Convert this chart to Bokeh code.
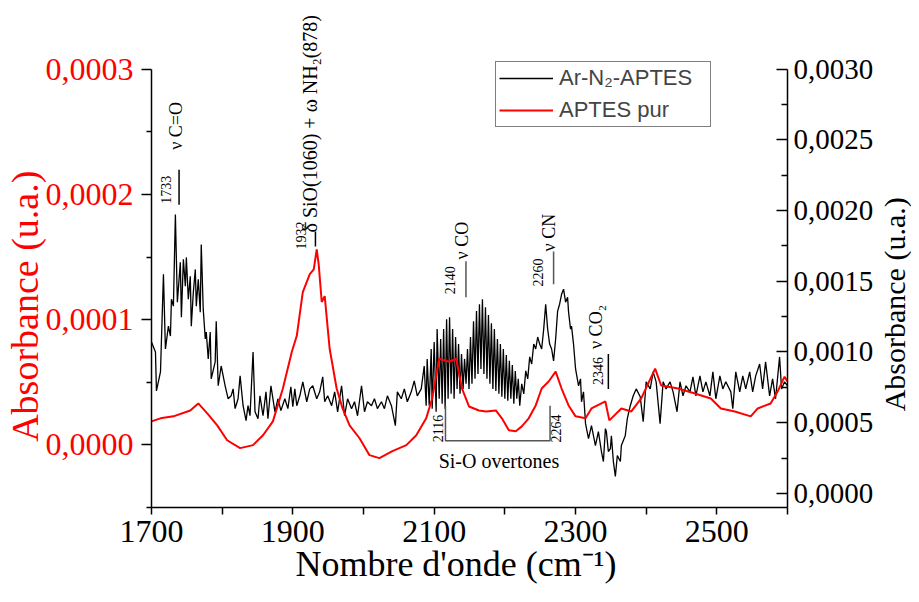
import math
from bokeh.plotting import figure
from bokeh.layouts import row
from bokeh.models import (Range1d, LinearAxis, FixedTicker, CustomJSTickFormatter,
                          Label, ColumnDataSource)
from bokeh.embed import file_html
from bokeh.resources import INLINE

# ---------------- data ----------------
# Ar-N2-APTES (right axis)
black_wn = [
    1700.0, 1705.6, 1707.0, 1712.7, 1716.9, 1719.7, 1723.9, 1726.8, 1728.2, 1731.0,
    1733.8, 1736.6, 1740.8, 1742.3, 1745.1, 1747.9, 1749.3, 1752.1, 1754.9, 1756.3,
    1759.2, 1762.0, 1763.4, 1766.2, 1769.0, 1770.4, 1773.2, 1776.1, 1777.5, 1780.3,
    1783.1, 1784.5, 1790.1, 1791.6, 1794.4, 1798.6, 1804.2, 1808.5, 1812.7, 1815.5,
    1818.3, 1822.5, 1825.4, 1829.6, 1833.8, 1836.6, 1839.4, 1843.7, 1846.5, 1850.7,
    1853.5, 1857.8, 1862.0, 1864.8, 1869.0, 1874.7, 1878.9, 1883.1, 1888.7, 1893.0,
    1897.2, 1900.0, 1902.8, 1905.6, 1909.9, 1914.1, 1919.7, 1924.0, 1928.2, 1933.8,
    1938.0, 1942.3, 1945.1, 1949.3, 1954.9, 1959.2, 1963.4, 1969.0, 1973.2, 1977.5,
    1983.1, 1987.3, 1991.6, 1997.2, 2001.4, 2005.6, 2011.3, 2015.5, 2019.7, 2025.4,
    2029.6, 2033.8, 2039.5, 2045.1, 2047.9, 2053.5, 2057.8, 2062.0, 2067.6, 2071.8,
    2076.1, 2081.7, 2085.9, 2088.7, 2090.1, 2093.0, 2095.8, 2097.2, 2100.0, 2102.8,
    2104.2, 2107.1, 2109.2, 2111.3, 2113.4, 2115.5, 2117.6, 2119.7, 2121.8, 2124.0,
    2126.1, 2128.2, 2130.3, 2132.4, 2134.5, 2136.6, 2138.7, 2140.9, 2143.0, 2145.1,
    2147.2, 2149.3, 2151.4, 2153.5, 2155.7, 2157.8, 2159.9, 2162.0, 2164.1, 2166.2,
    2168.3, 2170.4, 2172.6, 2174.7, 2176.8, 2178.9, 2181.0, 2183.1, 2185.2, 2187.3,
    2189.5, 2191.6, 2193.7, 2195.8, 2197.9, 2200.0, 2202.1, 2204.2, 2206.4, 2208.5,
    2210.6, 2212.7, 2214.8, 2216.9, 2219.0, 2221.1, 2223.9, 2226.8, 2229.6, 2232.4,
    2235.2, 2238.0, 2240.9, 2243.7, 2246.5, 2249.3, 2252.1, 2255.0, 2257.8, 2260.6,
    2263.4, 2266.2, 2269.0, 2271.9, 2274.7, 2277.5, 2280.3, 2283.1, 2286.0, 2288.8,
    2290.2, 2293.0, 2294.4, 2297.2, 2300.1, 2304.3, 2307.1, 2308.5, 2311.3, 2314.2,
    2318.4, 2322.6, 2328.2, 2332.4, 2336.7, 2339.5, 2342.3, 2343.7, 2346.5, 2349.4,
    2350.8, 2353.6, 2356.4, 2359.2, 2363.5, 2364.9, 2370.4, 2373.3, 2377.5, 2381.7,
    2385.9, 2391.6, 2395.8, 2400.0, 2405.7, 2409.9, 2414.1, 2419.7, 2424.0, 2428.2,
    2433.8, 2438.1, 2443.7, 2447.9, 2452.1, 2456.4, 2462.0, 2466.2, 2470.4, 2476.1,
    2480.3, 2484.5, 2490.2, 2494.4, 2498.6, 2504.3, 2508.5, 2512.7, 2519.8, 2522.6,
    2526.8, 2532.4, 2536.7, 2540.9, 2546.5, 2550.7, 2555.0, 2560.6, 2564.8, 2569.0,
    2574.7, 2578.9, 2583.1, 2588.8, 2591.6, 2595.8, 2600.0,
]
black_abs = [
    1.070e-3, 1.000e-3, 0.725e-3, 0.859e-3, 1.549e-3, 1.021e-3, 1.183e-3, 1.113e-3, 1.373e-3, 1.324e-3,
    1.972e-3, 1.352e-3, 1.634e-3, 1.246e-3, 1.655e-3, 1.465e-3, 1.669e-3, 1.373e-3, 1.535e-3, 1.183e-3,
    1.422e-3, 1.584e-3, 1.324e-3, 1.514e-3, 1.282e-3, 1.761e-3, 1.303e-3, 1.092e-3, 1.141e-3, 0.951e-3,
    1.141e-3, 0.810e-3, 0.930e-3, 1.218e-3, 0.761e-3, 0.901e-3, 0.761e-3, 0.669e-3, 0.690e-3, 0.739e-3,
    0.599e-3, 0.669e-3, 0.831e-3, 0.620e-3, 0.514e-3, 0.620e-3, 0.549e-3, 1.000e-3, 0.577e-3, 0.528e-3,
    0.690e-3, 0.549e-3, 0.718e-3, 0.528e-3, 0.761e-3, 0.577e-3, 0.669e-3, 0.585e-3, 0.669e-3, 0.599e-3,
    0.754e-3, 0.613e-3, 0.739e-3, 0.620e-3, 0.690e-3, 0.789e-3, 0.648e-3, 0.739e-3, 0.761e-3, 0.669e-3,
    0.718e-3, 0.824e-3, 0.648e-3, 0.690e-3, 0.620e-3, 0.718e-3, 0.577e-3, 0.761e-3, 0.549e-3, 0.669e-3,
    0.599e-3, 0.648e-3, 0.549e-3, 0.761e-3, 0.577e-3, 0.648e-3, 0.620e-3, 0.669e-3, 0.599e-3, 0.648e-3,
    0.599e-3, 0.690e-3, 0.620e-3, 0.479e-3, 0.718e-3, 0.669e-3, 0.739e-3, 0.648e-3, 0.718e-3, 0.796e-3,
    0.690e-3, 0.739e-3, 0.901e-3, 0.620e-3, 0.951e-3, 0.620e-3, 1.021e-3, 0.599e-3, 1.070e-3, 0.577e-3,
    1.162e-3, 0.669e-3, 1.092e-3, 0.634e-3, 1.162e-3, 0.599e-3, 1.232e-3, 0.669e-3, 1.246e-3, 0.704e-3,
    1.162e-3, 0.669e-3, 1.106e-3, 0.739e-3, 1.056e-3, 0.704e-3, 0.986e-3, 0.739e-3, 0.951e-3, 0.775e-3,
    1.021e-3, 0.739e-3, 1.106e-3, 0.775e-3, 1.218e-3, 0.810e-3, 1.289e-3, 0.845e-3, 1.338e-3, 0.880e-3,
    1.373e-3, 0.845e-3, 1.317e-3, 0.810e-3, 1.261e-3, 0.775e-3, 1.204e-3, 0.739e-3, 1.162e-3, 0.725e-3,
    1.092e-3, 0.704e-3, 1.056e-3, 0.683e-3, 1.021e-3, 0.669e-3, 0.979e-3, 0.655e-3, 0.937e-3, 0.669e-3,
    0.908e-3, 0.634e-3, 0.866e-3, 0.669e-3, 0.810e-3, 0.620e-3, 0.775e-3, 0.704e-3, 0.866e-3, 0.810e-3,
    0.965e-3, 0.915e-3, 1.056e-3, 1.021e-3, 1.106e-3, 1.056e-3, 1.021e-3, 1.162e-3, 1.338e-3, 1.162e-3,
    1.056e-3, 1.021e-3, 0.937e-3, 1.092e-3, 1.289e-3, 1.338e-3, 1.408e-3, 1.444e-3, 1.352e-3, 1.387e-3,
    1.282e-3, 1.162e-3, 1.183e-3, 1.056e-3, 0.880e-3, 0.761e-3, 0.810e-3, 0.648e-3, 0.718e-3, 0.493e-3,
    0.387e-3, 0.479e-3, 0.338e-3, 0.437e-3, 0.296e-3, 0.225e-3, 0.458e-3, 0.437e-3, 0.296e-3, 0.317e-3,
    0.408e-3, 0.225e-3, 0.120e-3, 0.268e-3, 0.225e-3, 0.338e-3, 0.408e-3, 0.528e-3, 0.620e-3, 0.690e-3,
    0.739e-3, 0.683e-3, 0.507e-3, 0.789e-3, 0.739e-3, 0.859e-3, 0.789e-3, 0.493e-3, 0.789e-3, 0.739e-3,
    0.789e-3, 0.718e-3, 0.577e-3, 0.789e-3, 0.690e-3, 0.761e-3, 0.718e-3, 0.824e-3, 0.690e-3, 0.831e-3,
    0.718e-3, 0.789e-3, 0.690e-3, 0.859e-3, 0.669e-3, 0.831e-3, 0.739e-3, 0.789e-3, 0.718e-3, 0.599e-3,
    0.859e-3, 0.718e-3, 0.831e-3, 0.739e-3, 0.859e-3, 0.718e-3, 0.831e-3, 0.915e-3, 0.739e-3, 0.930e-3,
    0.690e-3, 0.810e-3, 0.669e-3, 0.965e-3, 0.739e-3, 0.789e-3, 0.761e-3,
]

# APTES pur (left axis)
red_wn = [
    1700.0, 1712.7, 1731.0, 1754.9, 1766.2, 1778.9, 1793.0, 1807.0, 1825.4, 1843.7,
    1857.8, 1871.8, 1885.9, 1898.6, 1905.6, 1914.1, 1924.0, 1929.6, 1933.8, 1936.6,
    1940.9, 1945.1, 1952.1, 1962.0, 1970.4, 1980.3, 1994.4, 2008.5, 2022.5, 2040.9,
    2060.6, 2074.7, 2088.7, 2097.2, 2107.1, 2121.2, 2131.0, 2139.4, 2149.3, 2163.4,
    2173.3, 2187.3, 2195.8, 2205.7, 2215.5, 2224.0, 2233.8, 2243.7, 2252.1, 2262.0,
    2271.9, 2280.3, 2290.2, 2300.1, 2314.2, 2322.6, 2342.3, 2347.9, 2364.9, 2379.0,
    2393.0, 2412.7, 2421.2, 2445.1, 2469.0, 2491.5, 2505.7, 2525.4, 2548.0, 2557.8,
    2576.1, 2586.0, 2595.8, 2600.0,
]
red_abs = [
    1.88e-5, 2.12e-5, 2.28e-5, 2.75e-5, 3.31e-5, 2.52e-5, 1.56e-5, 0.37e-5, -0.26e-5, -0.02e-5,
    0.77e-5, 1.88e-5, 4.50e-5, 7.44e-5, 8.71e-5, 12.20e-5, 13.63e-5, 14.02e-5, 15.61e-5, 14.42e-5,
    11.41e-5, 11.88e-5, 7.68e-5, 4.50e-5, 2.91e-5, 1.56e-5, 0.53e-5, -0.82e-5, -1.06e-5, -0.50e-5,
    -0.02e-5, 0.77e-5, 2.12e-5, 3.71e-5, 6.88e-5, 6.64e-5, 6.88e-5, 4.50e-5, 3.07e-5, 2.75e-5,
    2.67e-5, 2.75e-5, 2.12e-5, 1.17e-5, 1.09e-5, 1.48e-5, 2.12e-5, 3.15e-5, 4.50e-5, 5.06e-5,
    5.85e-5, 4.50e-5, 3.15e-5, 2.28e-5, 2.12e-5, 2.91e-5, 3.47e-5, 1.96e-5, 2.91e-5, 2.67e-5,
    3.71e-5, 6.09e-5, 4.74e-5, 4.50e-5, 4.10e-5, 3.71e-5, 2.91e-5, 2.67e-5, 2.28e-5, 2.91e-5,
    3.31e-5, 4.26e-5, 5.45e-5, 5.06e-5,
]

x_major = [1700, 1900, 2100, 2300, 2500]
x_minor = [1800, 2000, 2200, 2400, 2600]
left_major = [0.0, 0.0001, 0.0002, 0.0003]
left_minor = [-0.00005, 0.00005, 0.00015, 0.00025]
right_major = [0.0, 0.0005, 0.0010, 0.0015, 0.0020, 0.0025, 0.0030]
right_minor = [0.00025, 0.00075, 0.00125, 0.00175, 0.00225, 0.00275]

# band markers (wavenumber, bottom, top on right axis)
marker_wn = [1739, 1932, 2145, 2269, 2346.5]
marker_lo = [2.042e-3, 1.746e-3, 1.387e-3, 1.479e-3, 0.739e-3]
marker_hi = [2.289e-3, 1.852e-3, 1.641e-3, 1.711e-3, 0.986e-3]
marker_col = ["black", "black", "#555555", "#555555", "black"]

bracket_wn = [2116, 2116, 2264, 2264]
bracket_abs = [0.620e-3, 0.373e-3, 0.373e-3, 0.620e-3]

SERIF = "Liberation Serif"
NB = "\u00a0"
H = 586

# frame reaches the top of the canvas so the tall annotation is not clipped;
# axis bounds keep the axis rules at the reference extent
p = figure(width=876, height=H, output_backend="svg", toolbar_location=None,
           x_range=Range1d(1700, 2600), y_range=Range1d(-0.00005, 0.00035489),
           min_border_left=151, min_border_right=86, min_border_top=0,
           min_border_bottom=77)
p.extra_y_ranges = {"right": Range1d(-0.0001, 0.00348614)}
p.outline_line_color = None
p.xgrid.visible = False
p.ygrid.visible = False
p.background_fill_color = "white"

fmt = CustomJSTickFormatter(code="return tick.toFixed(4).replace('.', ',');")

# x axis
xa = p.xaxis[0]
xa.ticker = FixedTicker(ticks=x_major, minor_ticks=x_minor)
xa.major_label_text_font = SERIF
xa.major_label_text_font_size = "32px"
xa.major_label_text_color = "black"
xa.major_tick_out = 7
xa.major_tick_in = 0
xa.minor_tick_out = 7
xa.minor_tick_in = 0
xa.axis_line_width = 1.5
xa.major_tick_line_width = 1.5
xa.minor_tick_line_width = 1.5
xa.major_label_standoff = 6
xa.axis_label = "Nombre d'onde (cm\u207b\u00b9)" + NB * 3
xa.axis_label_text_font = SERIF
xa.axis_label_text_font_size = "36px"
xa.axis_label_text_font_style = "normal"
xa.axis_label_text_color = "black"
xa.axis_label_standoff = -1

# left axis (red series)
ya = p.yaxis[0]
ya.bounds = (-0.00005, 0.0003)
ya.ticker = FixedTicker(ticks=left_major, minor_ticks=left_minor)
ya.formatter = fmt
ya.major_label_text_font = SERIF
ya.major_label_text_font_size = "32px"
ya.major_label_text_color = "red"
ya.major_tick_out = 10
ya.major_tick_in = 0
ya.minor_tick_out = 5
ya.minor_tick_in = 0
ya.axis_line_width = 1.5
ya.major_tick_line_width = 1.5
ya.minor_tick_line_width = 1.5
ya.major_label_standoff = 8
ya.axis_label = "Absorbance (u.a.)" + NB * 11
ya.axis_label_text_font = SERIF
ya.axis_label_text_font_size = "38px"
ya.axis_label_text_font_style = "normal"
ya.axis_label_text_color = "red"
ya.axis_label_standoff = -3

# right axis (black series)
ra = LinearAxis(y_range_name="right")
ra.bounds = (-0.0001, 0.0030)
ra.ticker = FixedTicker(ticks=right_major, minor_ticks=right_minor)
ra.formatter = fmt
ra.major_label_text_font = SERIF
ra.major_label_text_font_size = "29px"
ra.major_label_text_color = "black"
ra.major_tick_out = 0
ra.major_tick_in = 11
ra.minor_tick_out = 0
ra.minor_tick_in = 6
ra.axis_line_width = 1.5
ra.major_tick_line_width = 1.5
ra.minor_tick_line_width = 1.5
ra.major_label_standoff = 6
p.add_layout(ra, "right")

# spectra
black_src = ColumnDataSource(dict(x=black_wn, y=black_abs))
red_src = ColumnDataSource(dict(x=red_wn, y=red_abs))
p.line("x", "y", source=black_src, y_range_name="right", color="black",
       line_width=1.3, legend_label="Ar-N\u2082-APTES")
p.line("x", "y", source=red_src, color="red", line_width=2,
       legend_label="APTES pur")

# band markers
p.segment(x0=marker_wn, y0=marker_lo, x1=marker_wn, y1=marker_hi,
          y_range_name="right", line_color=marker_col, line_width=1.5)
p.line(bracket_wn, bracket_abs, y_range_name="right", line_color="#555555",
       line_width=1.5)

def add_label(text, x, y, size, angle=math.pi / 2, align="center", color="black"):
    p.add_layout(Label(x=x, y=y, y_range_name="right", text=text, angle=angle,
                       text_align=align, text_baseline="middle",
                       text_font=SERIF, text_font_size=size, text_color=color))

add_label("1733", 1721, 2.148e-3, "14px")
add_label("\u03bd C=O", 1735, 2.599e-3, "18px")
add_label("1932", 1911, 1.824e-3, "14px")
add_label("\u03b4 SiO(1060) + \u03c9 NH\u2082(878)", 1924, 1.845e-3, "20px", align="left")
add_label("2140", 2122.6, 1.507e-3, "14px")
add_label("\u03bd CO", 2139.5, 1.655e-3, "18px", align="left")
add_label("2260", 2246.5, 1.563e-3, "14px")
add_label("\u03bd CN", 2262, 1.711e-3, "18px", align="left")
add_label("2346", 2332, 0.866e-3, "14px")
add_label("\u03bd CO\u2082", 2329, 1.021e-3, "18px", align="left")
add_label("2116", 2105.6, 0.458e-3, "14px")
add_label("2264", 2273, 0.458e-3, "14px")
add_label("Si-O overtones", 2191.6, 0.232e-3, "20px", angle=0)

# legend
lg = p.legend[0]
lg.location = (344, 380)
lg.label_text_font = "Liberation Sans"
lg.label_text_font_size = "22px"
lg.glyph_width = 54
lg.glyph_height = 20
lg.label_standoff = 6
lg.label_width = 148
lg.padding = 3
lg.spacing = 6
lg.margin = 0
lg.border_line_color = "black"
lg.border_line_width = 1
lg.background_fill_alpha = 1.0

# narrow strip to the right carrying the right-hand axis title (reads bottom-to-top);
# it shares the main y range so its frame lines up with the main frame
t = figure(width=35, height=H, output_backend="svg", toolbar_location=None,
           x_range=Range1d(0, 1), y_range=p.y_range, min_border=0,
           x_axis_location=None, y_axis_location=None)
t.outline_line_color = None
t.grid.visible = False
t.add_layout(Label(x=0.5, y=1.1227e-4, text="Absorbance (u.a.)", angle=math.pi / 2,
                   text_align="center", text_baseline="middle", text_font=SERIF,
                   text_font_size="30px", text_color="black"))

layout = row(p, t, spacing=0)
open("out.html", "w").write(file_html(layout, INLINE))
